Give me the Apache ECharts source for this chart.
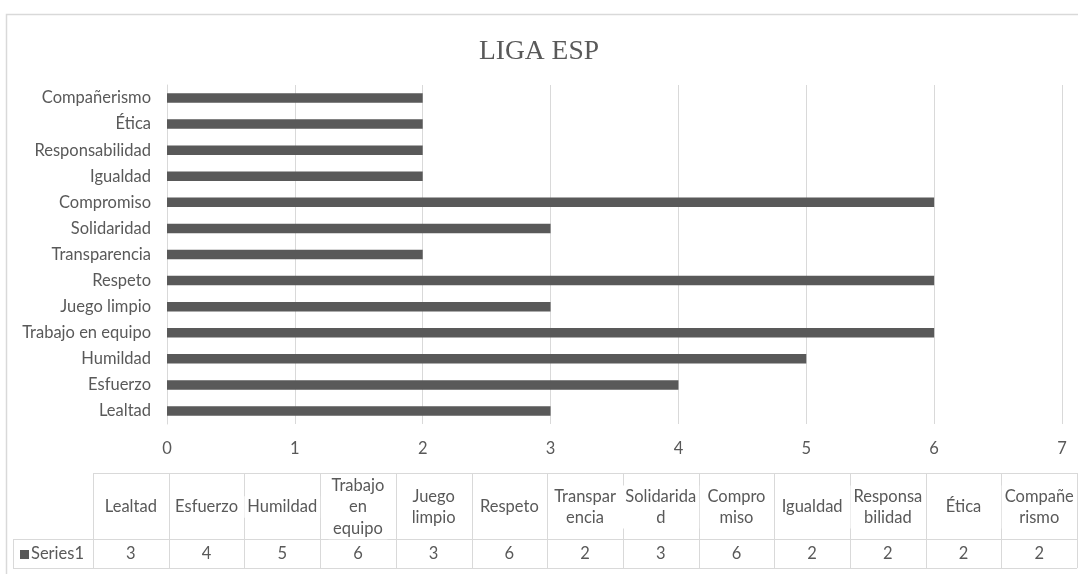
<!DOCTYPE html>
<html>
<head>
<meta charset="utf-8">
<script src="https://cdn.jsdelivr.net/npm/echarts@6/dist/echarts.min.js"></script>
<style>
  html, body { margin: 0; padding: 0; background: #fff; }
  #main { width: 1078px; height: 574px; }
</style>
</head>
<body>
<div id="main"></div>
<script>
// datos del grafico
const categories = ['Lealtad', 'Esfuerzo', 'Humildad', 'Trabajo en equipo', 'Juego limpio', 'Respeto',
  'Transparencia', 'Solidaridad', 'Compromiso', 'Igualdad', 'Responsabilidad', 'Ética', 'Compañerismo'];
const values = [3, 4, 5, 6, 3, 6, 2, 3, 6, 2, 2, 2, 2];
// cabeceras de la tabla tal como se parten en la imagen
const tableHeaders = ['Lealtad', 'Esfuerzo', 'Humildad', 'Trabajo\nen\nequipo', 'Juego\nlimpio', 'Respeto',
  'Transpar\nencia', 'Solidarida\nd', 'Compro\nmiso', 'Igualdad', 'Responsa\nbilidad', 'Ética', 'Compañe\nrismo'];
const seriesName = 'Series1';
const title = 'LIGA ESP';

const gray = '#595959';
const lineGray = '#d9d9d9';
const font = 'Lato';
const fs = 16.5;

// tabla de datos debajo del grafico
function buildTable() {
  let g = [];
  let x0 = 93, colW = 75.7, top = 473, mid = 539, bottom = 568, left = 13;
  let n = categories.length;
  let right = x0 + colW * n;
  const line = (x1, y1, x2, y2) => ({
    type: 'line', silent: true,
    shape: { x1: x1, y1: y1, x2: x2, y2: y2 },
    style: { stroke: lineGray, lineWidth: 1 }
  });
  g.push(line(x0, top + 0.5, right, top + 0.5));
  g.push(line(left, mid + 0.5, right, mid + 0.5));
  g.push(line(left, bottom + 0.5, right, bottom + 0.5));
  g.push(line(left + 0.5, mid, left + 0.5, bottom));
  for (let i = 0; i <= n; i++) {
    let x = Math.round(x0 + colW * i) + 0.5;
    g.push(line(x, top, x, bottom));
  }
  for (let i = 0; i < n; i++) {
    let cx = x0 + colW * (i + 0.5);
    g.push({
      type: 'text', silent: true, z: 10,
      x: cx, y: 507,
      style: {
        text: tableHeaders[i], align: 'center', verticalAlign: 'middle',
        fontFamily: font, fontSize: fs, lineHeight: 21.5, fill: gray,
        backgroundColor: '#fff', padding: [0, 3]
      }
    });
    g.push({
      type: 'text', silent: true,
      x: cx, y: 554,
      style: {
        text: String(values[i]), align: 'center', verticalAlign: 'middle',
        fontFamily: font, fontSize: fs, fill: gray
      }
    });
  }
  // clave de la serie
  g.push({ type: 'rect', silent: true, shape: { x: 20, y: 550, width: 9, height: 9 }, style: { fill: gray } });
  g.push({
    type: 'text', silent: true, x: 31, y: 554,
    style: { text: seriesName, align: 'left', verticalAlign: 'middle', fontFamily: font, fontSize: fs, fill: gray }
  });
  // borde del area del grafico
  g.push({
    type: 'rect', silent: true, z: -1,
    shape: { x: 6.5, y: 14.5, width: 1100, height: 600 },
    style: { fill: 'none', stroke: lineGray, lineWidth: 1.5 }
  });
  return g;
}

let myChart = echarts.init(document.getElementById('main'));
myChart.setOption({
  animation: false,
  backgroundColor: '#fff',
  title: {
    text: title,
    left: 'center',
    top: 33,
    textStyle: { fontFamily: 'Liberation Serif', fontSize: 27.5, fontWeight: 'normal', color: gray }
  },
  grid: { left: 167, right: 16, top: 85, height: 339 },
  xAxis: {
    type: 'value',
    min: 0, max: 7, interval: 1,
    axisLine: { show: false },
    axisTick: { show: false },
    splitLine: { lineStyle: { color: lineGray, width: 1 } },
    axisLabel: { color: gray, fontFamily: font, fontSize: fs, margin: 16 }
  },
  yAxis: {
    type: 'category',
    data: categories,
    axisLine: { show: true, lineStyle: { color: lineGray } },
    axisTick: { show: false },
    axisLabel: { color: gray, fontFamily: font, fontSize: fs, margin: 16 }
  },
  series: [{
    name: seriesName,
    type: 'bar',
    data: values,
    barWidth: 9.5,
    itemStyle: { color: gray }
  }],
  graphic: buildTable()
});
</script>
</body>
</html>
